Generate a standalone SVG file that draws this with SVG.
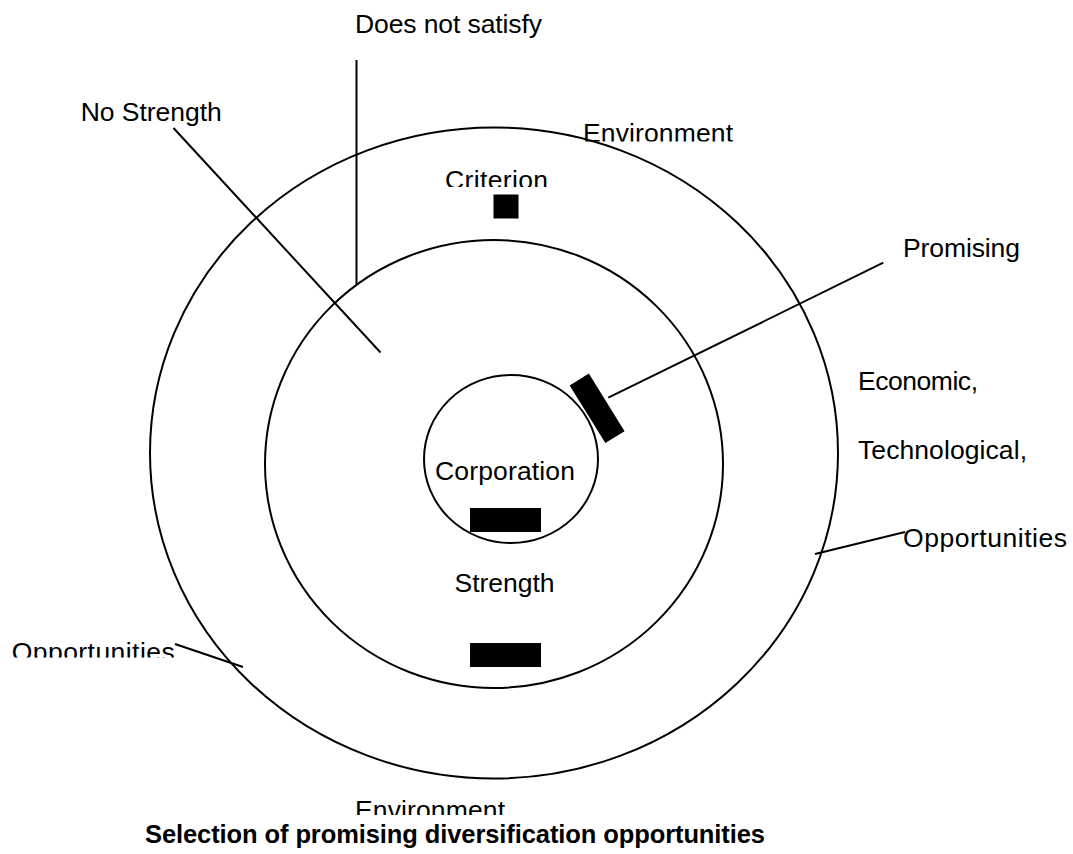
<svg xmlns="http://www.w3.org/2000/svg" width="1073" height="854" viewBox="0 0 1073 854">
  <style>
    .ring { fill: none; stroke: #000; stroke-width: 2; }
    .link { stroke: #000; stroke-width: 2; fill: none; }
    .mark { fill: #000; }
    .lbl { font-family: "Liberation Sans", Arial, sans-serif; font-size: 26.5px; fill: #000; }
    .title { font-family: "Liberation Sans", Arial, sans-serif; font-size: 25.5px; font-weight: bold; fill: #000; }
  </style>
  <defs>
    <!-- text boxes that cut off the bottom of their labels -->
    <clipPath id="clipEnvTop" clipPathUnits="userSpaceOnUse"><rect x="570" y="110" width="180" height="31.5"/></clipPath>
    <clipPath id="clipCriterion" clipPathUnits="userSpaceOnUse"><rect x="430" y="160" width="140" height="27"/></clipPath>
    <clipPath id="clipOppLeft" clipPathUnits="userSpaceOnUse"><rect x="0" y="630" width="190" height="27.5"/></clipPath>
    <clipPath id="clipEnvBottom" clipPathUnits="userSpaceOnUse"><rect x="340" y="790" width="180" height="25"/></clipPath>
  </defs>

  <rect width="1073" height="854" fill="#fff"/>

  <!-- concentric rings -->
  <g id="environment">
    <ellipse class="ring" cx="494" cy="453" rx="344" ry="325.5"/>
  </g>
  <g id="criterion">
    <ellipse class="ring" cx="494" cy="464" rx="229" ry="224"/>
    <rect class="mark" x="493.5" y="194.5" width="25" height="24"/>
  </g>
  <g id="corporation">
    <ellipse class="ring" cx="511" cy="459" rx="87" ry="84"/>
    <rect class="mark" x="470" y="508" width="71" height="24"/>
    <text class="lbl" x="435" y="480" textLength="140">Corporation</text>
  </g>
  <g id="strength">
    <rect class="mark" x="470" y="643" width="71" height="24"/>
    <text class="lbl" x="454.5" y="592" textLength="100">Strength</text>
  </g>
  <g id="promising">
    <rect class="mark" x="-11.3" y="-33.9" width="22.6" height="67.8" transform="translate(597.1 408.3) rotate(-31.8)"/>
  </g>

  <!-- leader lines -->
  <g id="connectors">
    <line class="link" x1="356.5" y1="60" x2="356.5" y2="285"/>
    <line class="link" x1="173.5" y1="128" x2="380.5" y2="352.5"/>
    <line class="link" x1="608.3" y1="397.7" x2="883.3" y2="262.7"/>
    <line class="link" x1="815" y1="554" x2="905" y2="532"/>
    <line class="link" x1="175" y1="644" x2="243" y2="667"/>
  </g>

  <!-- labels -->
  <g id="labels">
    <text class="lbl" x="355" y="33" textLength="187">Does not satisfy</text>
    <text class="lbl" x="80.7" y="121" textLength="141">No Strength</text>
    <text class="lbl" x="583" y="142" textLength="150" clip-path="url(#clipEnvTop)">Environment</text>
    <text class="lbl" x="445" y="189" textLength="103" clip-path="url(#clipCriterion)">Criterion</text>
    <text class="lbl" x="903" y="257" textLength="117">Promising</text>
    <text class="lbl" x="858" y="390" textLength="120">Economic,</text>
    <text class="lbl" x="858" y="459" textLength="169">Technological,</text>
    <text class="lbl" x="903" y="547" textLength="164">Opportunities</text>
    <text class="lbl" x="11.7" y="661" textLength="163" clip-path="url(#clipOppLeft)">Opportunities</text>
    <text class="lbl" x="355" y="819" textLength="150" clip-path="url(#clipEnvBottom)">Environment</text>
    <text class="title" x="145" y="843" textLength="620">Selection of promising diversification opportunities</text>
  </g>
</svg>
